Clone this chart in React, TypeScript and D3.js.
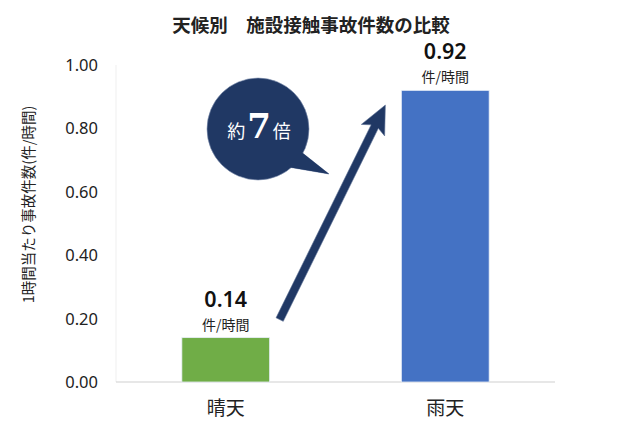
import React, { useEffect, useRef } from "react";
import * as d3 from "d3";

const categories = ["晴天", "雨天"];
const values = [0.14, 0.92];
const barColors = ["#70AD47", "#4472C4"];
const yTicks = [0, 0.2, 0.4, 0.6, 0.8, 1.0];
const unitLabel = "件/時間";
const ratioLabel = ["約", "7", "倍"];

const W = 640;
const H = 425;
const FONT = "'Noto Sans CJK JP', 'Noto Sans', sans-serif";
const NUM_FONT = "'Noto Sans', 'Noto Sans CJK JP', sans-serif";

export default function App() {
  const ref = useRef<SVGSVGElement>(null);

  useEffect(() => {
    const svg = d3.select(ref.current);
    svg.selectAll("*").remove();

    const x = d3.scaleBand<string>().domain(categories).range([116, 555]).paddingInner(0.6).paddingOuter(0.3);
    const y = d3.scaleLinear().domain([0, 1]).range([382, 65]);

    svg.append("rect").attr("width", W).attr("height", H).attr("fill", "#fff");

    // title
    svg.append("text")
      .attr("x", 311).attr("y", 32)
      .attr("text-anchor", "middle")
      .attr("font-family", FONT).attr("font-size", 18.5).attr("font-weight", "bold")
      .attr("fill", "#222")
      .text("天候別　施設接触事故件数の比較");

    // axis lines
    svg.append("line").attr("x1", 116).attr("x2", 116).attr("y1", y(1)).attr("y2", y(0))
      .attr("stroke", "#efefef").attr("stroke-width", 1);
    svg.append("line").attr("x1", 116).attr("x2", 555).attr("y1", y(0)).attr("y2", y(0))
      .attr("stroke", "#d0d0d0").attr("stroke-width", 1.2);

    // tick labels
    svg.append("g").selectAll("text").data(yTicks).enter().append("text")
      .attr("x", 98).attr("y", d => y(d)).attr("dy", "0.36em")
      .attr("text-anchor", "end")
      .attr("font-family", NUM_FONT).attr("font-size", 16.5).attr("fill", "#222")
      .text(d => d.toFixed(2));

    // y axis title
    svg.append("text")
      .attr("transform", `translate(29, ${y(0.56)}) rotate(-90)`)
      .attr("text-anchor", "middle").attr("dy", "0.35em")
      .attr("font-family", FONT).attr("font-size", 14.5).attr("fill", "#222")
      .text("1時間当たり事故件数(件/時間)");

    // bars
    svg.append("g").selectAll("rect").data(values).enter().append("rect")
      .attr("x", (_, i) => x(categories[i])!)
      .attr("y", d => y(d))
      .attr("width", x.bandwidth())
      .attr("height", d => y(0) - y(d))
      .attr("fill", (_, i) => barColors[i])
      .attr("stroke", "#e8eef8").attr("stroke-width", 0.8);

    // value labels
    const lab = svg.append("g").selectAll("g").data(values).enter().append("g")
      .attr("transform", (d, i) => `translate(${x(categories[i])! + x.bandwidth() / 2}, ${y(d)})`);
    lab.append("text").attr("y", -31).attr("text-anchor", "middle")
      .attr("font-family", NUM_FONT).attr("font-size", 21.5).attr("font-weight", 600).attr("fill", "#111")
      .text(d => d.toFixed(2));
    lab.append("text").attr("y", -8).attr("text-anchor", "middle")
      .attr("font-family", FONT).attr("font-size", 14).attr("fill", "#222")
      .text(unitLabel);

    // x labels
    svg.append("g").selectAll("text").data(categories).enter().append("text")
      .attr("x", d => x(d)! + x.bandwidth() / 2).attr("y", 415)
      .attr("text-anchor", "middle")
      .attr("font-family", FONT).attr("font-size", 19).attr("fill", "#222")
      .text(d => d);

    // arrow
    const navy = "#203864";
    const sx = x(categories[0])! + x.bandwidth() + 10, sy = y(0.2) + 1;
    const ex = x(categories[1])! - 16, ey = y(0.88) + 2;
    const ang = Math.atan2(ey - sy, ex - sx);
    const ux = Math.cos(ang), uy = Math.sin(ang);
    const nx = -uy, ny = ux;
    const sw = 4, hw = 13, hl = 28;
    const bx = ex - ux * hl, by = ey - uy * hl;
    const pts: [number, number][] = [
      [sx + nx * sw, sy + ny * sw],
      [bx + nx * sw + ux * 4, by + ny * sw + uy * 4],
      [bx + nx * hw, by + ny * hw],
      [ex, ey],
      [bx - nx * hw, by - ny * hw],
      [bx - nx * sw + ux * 4, by - ny * sw + uy * 4],
      [sx - nx * sw, sy - ny * sw],
    ];
    svg.append("path").attr("d", d3.line()(pts)! + "Z")
      .attr("fill", navy).attr("stroke", "#5a6f94").attr("stroke-width", 0.6);

    // speech bubble
    const cx = 258, cy = 129, r = 51;
    const tail: [number, number][] = [[cx + 30, cy + 38], [cx + 71, cy + 45], [cx + 42, cy + 22]];
    const bubble = svg.append("g");
    bubble.append("path").attr("d", d3.line()(tail)! + "Z")
      .attr("fill", navy).attr("stroke", "#8090b0").attr("stroke-width", 0.6);
    bubble.append("circle").attr("cx", cx).attr("cy", cy).attr("r", r)
      .attr("fill", navy).attr("stroke", "#8090b0").attr("stroke-width", 0.6);
    bubble.append("path").attr("d", d3.line()(tail)! + "Z").attr("fill", navy);
    const t = bubble.append("text").attr("x", cx + 1).attr("y", cy + 9)
      .attr("text-anchor", "middle").attr("font-family", FONT).attr("fill", "#fff");
    t.append("tspan").attr("font-size", 18).text(ratioLabel[0]);
    t.append("tspan").attr("font-size", 34).attr("font-weight", "bold")
      .attr("font-family", "'DejaVu Serif', serif").attr("dx", 2).text(ratioLabel[1]);
    t.append("tspan").attr("font-size", 18).attr("dx", 2).text(ratioLabel[2]);
  }, []);

  return (
    <svg ref={ref} width={W} height={H} style={{ position: "absolute", left: 0, top: 0 }} />
  );
}
